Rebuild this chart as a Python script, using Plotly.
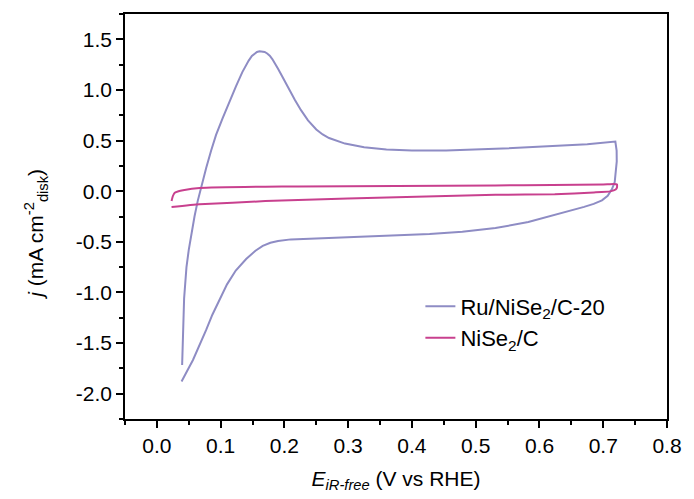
import plotly.graph_objects as go

# Cyclic voltammograms: potential (V vs RHE) and current density (mA cm^-2)
ru_potential = [
    0.0396, 0.0400, 0.0405, 0.0415, 0.0427, 0.0440, 0.0464, 0.0500, 0.0540,
    0.0590, 0.0640, 0.0700, 0.0773, 0.0850, 0.0928, 0.1030, 0.1133, 0.1240,
    0.1340, 0.1390, 0.1440, 0.1490, 0.1530, 0.1570, 0.1610, 0.1650, 0.1690,
    0.1730, 0.1770, 0.1810, 0.1850, 0.1900, 0.1960, 0.2060, 0.2165, 0.2260,
    0.2370, 0.2500, 0.2600, 0.2700, 0.2800, 0.2950, 0.3250, 0.3600, 0.4000,
    0.4535, 0.5310, 0.6080, 0.6750, 0.7190,
    0.7210, 0.7212, 0.7200, 0.7180, 0.7137, 0.7070, 0.6980, 0.6850, 0.6700,
    0.6500, 0.6340, 0.5825, 0.5310, 0.4790, 0.4277, 0.3247, 0.2680, 0.2350,
    0.2100, 0.1900, 0.1780, 0.1660, 0.1546, 0.1400, 0.1237, 0.1100, 0.0979,
    0.0870, 0.0773, 0.0670, 0.0566, 0.0470, 0.0387,
]
ru_current = [
    -1.716, -1.58, -1.45, -1.18, -1.06, -0.95, -0.75, -0.58, -0.425,
    -0.25, -0.098, 0.06, 0.228, 0.40, 0.556, 0.72, 0.882, 1.035,
    1.176, 1.235, 1.29, 1.335, 1.360, 1.375, 1.382, 1.382, 1.375,
    1.360, 1.338, 1.305, 1.265, 1.21, 1.14, 1.02, 0.90, 0.80,
    0.70, 0.61, 0.56, 0.525, 0.50, 0.47, 0.433, 0.412, 0.402,
    0.402, 0.418, 0.441, 0.464, 0.490,
    0.40, 0.294, 0.18, 0.09, 0.02, -0.045, -0.090, -0.125, -0.155,
    -0.190, -0.222, -0.305, -0.364, -0.400, -0.423, -0.449, -0.458, -0.466,
    -0.476, -0.492, -0.510, -0.540, -0.588, -0.670, -0.784, -0.920, -1.078,
    -1.220, -1.370, -1.520, -1.667, -1.780, -1.879,
]

nise_potential = [
    0.023, 0.025, 0.028, 0.034, 0.041, 0.067, 0.170, 0.2216, 0.376, 0.531,
    0.620, 0.700, 0.7165, 0.7216, 0.7215, 0.7195, 0.711, 0.6855, 0.624,
    0.531, 0.376, 0.2216, 0.170, 0.067, 0.023,
]
nise_current = [
    -0.098, -0.05, -0.016, 0.0, 0.010, 0.032, 0.045, 0.046, 0.052, 0.057,
    0.060, 0.066, 0.070, 0.066, 0.035, 0.016, -0.002, -0.012, -0.030,
    -0.036, -0.059, -0.088, -0.098, -0.130, -0.157,
]

x_tick_vals = [0.0, 0.1, 0.2, 0.3, 0.4, 0.5, 0.6, 0.7, 0.8]
x_tick_text = ["0.0", "0.1", "0.2", "0.3", "0.4", "0.5", "0.6", "0.7", "0.8"]
y_tick_vals = [-2.0, -1.5, -1.0, -0.5, 0.0, 0.5, 1.0, 1.5]
y_tick_text = ["-2.0", "-1.5", "-1.0", "-0.5", "0.0", "0.5", "1.0", "1.5"]

FONT = "Liberation Sans, Arial, sans-serif"
FS = 21

fig = go.Figure()
fig.add_trace(go.Scatter(
    x=ru_potential, y=ru_current, mode="lines",
    name="Ru/NiSe<sub>2</sub>/C-20",
    line=dict(color="#8e8cc4", width=2),
))
fig.add_trace(go.Scatter(
    x=nise_potential, y=nise_current, mode="lines",
    name="NiSe<sub>2</sub>/C",
    line=dict(color="#c8408e", width=2, shape="spline", smoothing=0.4),
))

axis_common = dict(
    showline=True, linecolor="black", linewidth=1.5, mirror=True,
    ticks="outside", ticklen=7, tickwidth=1.5, tickcolor="black",
    showgrid=False, zeroline=False,
    tickfont=dict(family=FONT, size=FS, color="black"),
)

fig.update_xaxes(
    range=[-0.05, 0.8], tickvals=x_tick_vals, ticktext=x_tick_text,
    minor=dict(ticks="outside", ticklen=4, tickwidth=1.5, tickcolor="black",
               dtick=0.05, tick0=0),
    title=dict(text="<i>E</i><sub><i>iR-free</i></sub> (V vs RHE)",
               font=dict(family=FONT, size=FS, color="black"), standoff=15),
    **axis_common,
)
fig.update_yaxes(
    range=[-2.25, 1.75], tickvals=y_tick_vals, ticktext=y_tick_text,
    minor=dict(ticks="outside", ticklen=4, tickwidth=1.5, tickcolor="black",
               dtick=0.25, tick0=0),
    **axis_common,
)

# y-axis title, placed as a rotated annotation left of the tick labels
fig.add_annotation(
    text="<i>j</i> (mA cm<sup>-2</sup><sub>disk</sub>)",
    xref="paper", yref="paper", x=-0.164, y=0.455,
    xanchor="center", yanchor="middle", textangle=-90, showarrow=False,
    font=dict(family=FONT, size=FS, color="black"),
)

fig.update_layout(
    width=694, height=499,
    margin=dict(l=125, r=20, t=12, b=78),
    paper_bgcolor="white", plot_bgcolor="white",
    font=dict(family=FONT, size=FS, color="black"),
    legend=dict(
        x=0.545, y=0.33, xanchor="left", yanchor="top",
        bgcolor="rgba(0,0,0,0)", borderwidth=0,
        font=dict(family=FONT, size=22, color="black"),
    ),
)

fig.write_html("out.html")
